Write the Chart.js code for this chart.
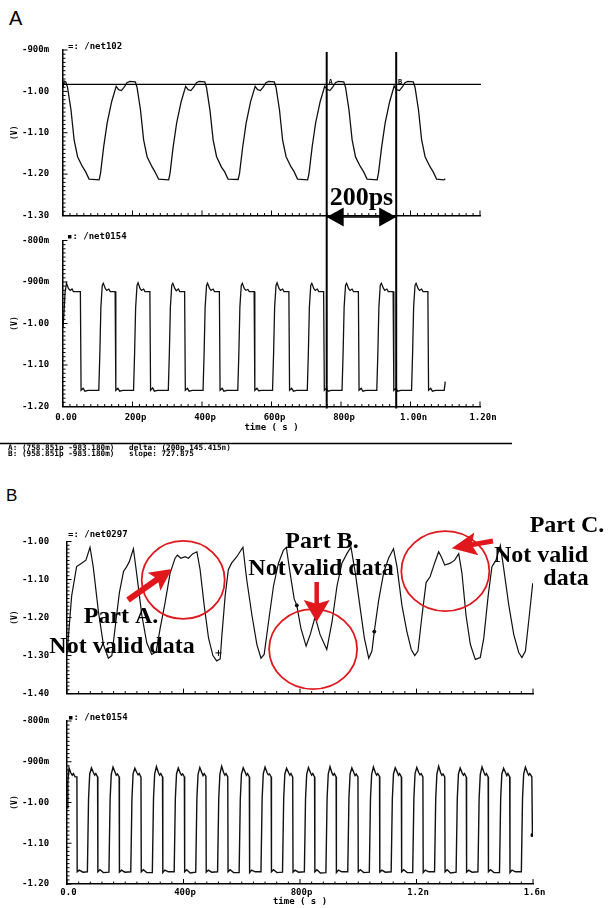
<!DOCTYPE html>
<html>
<head>
<meta charset="utf-8">
<title>Waveforms</title>
<script src="https://cdn.jsdelivr.net/npm/chart.js@4.4.1/dist/chart.umd.min.js"></script>
<style>
html,body{margin:0;padding:0;background:#fff;}
body{position:relative;width:610px;height:908px;overflow:hidden;font-family:"Liberation Sans",Arial,sans-serif;}
canvas{position:absolute;left:0;}
.panel{position:absolute;color:#000;line-height:20px;}
</style>
</head>
<body>
<div class="panel" style="left:9px;top:8px;font-size:20px;">A</div>
<div class="panel" style="left:6px;top:486px;font-size:17px;">B</div>
<canvas id="c1" width="610" height="232" style="top:0px"></canvas>
<canvas id="c2" width="610" height="230" style="top:232px"></canvas>
<canvas id="c3" width="610" height="197" style="top:505px"></canvas>
<canvas id="c4" width="610" height="206" style="top:702px"></canvas>
<script>
// ===================== DATA =====================
// Panel A, upper trace /net102 (time in ps, volts)
const net102_t = [0,3,
 8,13,23,32,42,56,65,75,104,108,117,127,140,153,160,168,176,184,192,
 208,213,223,232,242,256,265,275,304,308,317,327,340,353,360,368,376,384,392,
 408,413,423,432,442,456,465,475,504,508,517,527,540,553,560,568,576,584,592,
 608,613,623,632,642,656,665,675,704,708,717,727,740,753,760,768,776,784,792,
 808,813,823,832,842,856,865,875,904,908,917,927,940,953,960,968,976,984,992,
 1008,1013,1023,1032,1042,1056,1065,1075,1096,1100];
const net102_v = [-0.992,-0.975,
 -0.977,-0.990,-1.045,-1.117,-1.158,-1.182,-1.194,-1.212,-1.214,-1.198,-1.134,-1.077,-1.025,-0.988,-0.996,-0.998,-0.990,-0.979,-0.976,
 -0.977,-0.990,-1.045,-1.117,-1.158,-1.182,-1.195,-1.212,-1.214,-1.198,-1.134,-1.077,-1.025,-0.988,-0.996,-0.998,-0.990,-0.979,-0.976,
 -0.977,-0.991,-1.046,-1.117,-1.158,-1.183,-1.194,-1.212,-1.213,-1.198,-1.135,-1.077,-1.024,-0.988,-0.996,-0.998,-0.990,-0.979,-0.976,
 -0.977,-0.990,-1.045,-1.118,-1.158,-1.182,-1.194,-1.212,-1.214,-1.198,-1.134,-1.076,-1.025,-0.988,-0.995,-0.998,-0.990,-0.979,-0.976,
 -0.977,-0.990,-1.045,-1.117,-1.159,-1.182,-1.194,-1.212,-1.214,-1.197,-1.134,-1.077,-1.025,-0.987,-0.996,-0.998,-0.990,-0.979,-0.976,
 -0.977,-0.990,-1.045,-1.117,-1.158,-1.182,-1.194,-1.212,-1.214,-1.211];

// Panel A, lower trace /net0154
const netA0154_t = [0,3,6,10,16,21,26,30,50,52,58,63,72,
 103,106,109,113,116,122,126,132,136,150,152,158,163,172,
 203,206,209,213,216,222,226,232,236,250,252,258,263,272,
 303,306,309,313,316,322,326,332,336,350,352,358,363,372,
 403,406,409,413,416,422,426,432,436,450,452,458,463,472,
 503,506,509,513,516,522,526,532,536,550,552,558,563,572,
 603,606,609,613,616,622,626,632,636,650,652,658,663,672,
 703,706,709,713,716,722,726,732,736,750,752,758,763,772,
 803,806,809,813,816,822,826,832,836,850,852,858,863,872,
 903,906,909,913,916,922,926,932,936,950,952,958,963,972,
 1003,1006,1009,1013,1016,1022,1026,1032,1036,1050,1052,1058,1063,1072,1097,1100];
const netA0154_v = [-1.010,-0.970,-0.925,-0.903,-0.916,-0.920,-0.917,-0.923,-0.923,-1.161,-1.156,-1.163,-1.161,
 -1.161,-1.073,-0.961,-0.908,-0.903,-0.916,-0.920,-0.917,-0.923,-0.923,-1.161,-1.156,-1.163,-1.161,
 -1.161,-1.073,-0.962,-0.908,-0.902,-0.916,-0.920,-0.917,-0.923,-0.923,-1.161,-1.155,-1.163,-1.161,
 -1.161,-1.073,-0.961,-0.908,-0.903,-0.916,-0.921,-0.917,-0.923,-0.923,-1.161,-1.156,-1.163,-1.161,
 -1.161,-1.074,-0.961,-0.909,-0.903,-0.916,-0.920,-0.917,-0.923,-0.923,-1.161,-1.156,-1.163,-1.161,
 -1.161,-1.073,-0.961,-0.908,-0.903,-0.916,-0.920,-0.918,-0.923,-0.923,-1.161,-1.156,-1.162,-1.161,
 -1.161,-1.073,-0.961,-0.908,-0.902,-0.916,-0.920,-0.917,-0.923,-0.923,-1.161,-1.156,-1.163,-1.161,
 -1.161,-1.073,-0.961,-0.908,-0.903,-0.916,-0.920,-0.917,-0.923,-0.923,-1.161,-1.156,-1.163,-1.161,
 -1.161,-1.072,-0.961,-0.908,-0.903,-0.916,-0.920,-0.917,-0.923,-0.923,-1.161,-1.156,-1.163,-1.161,
 -1.161,-1.073,-0.961,-0.908,-0.903,-0.915,-0.920,-0.917,-0.923,-0.923,-1.161,-1.156,-1.163,-1.161,
 -1.161,-1.073,-0.961,-0.908,-0.903,-0.916,-0.920,-0.917,-0.923,-0.923,-1.161,-1.156,-1.163,-1.161,-1.161,-1.140];

// Panel B, upper trace /net0297
const net0297_t = [0,16,33,50,65,79,90,108,125,142,
 154,165,180,194,205,214,228,239,257,274,
 291,306,320,337,354,371,379,391,405,417,
 432,446,457,471,486,501,514,526,532,543,
 554,565,583,604,617,635,652,666,677,692,
 709,726,743,753,766,780,789,803,821,835,
 852,869,892,910,927,944,961,975,990,1007,
 1021,1036,1047,1055,1070,1087,1104,1121,1133,1150,
 1167,1182,1194,1205,1219,1233,1247,1262,1276,1285,
 1297,1316,1331,1345,1356,1370,1385,1402,1419,1431,
 1446,1459,1473,1488,1500,1517,1534,1551,1562,1574,
 1585,1599];
const net0297_v = [-1.297,-1.143,-1.066,-1.057,-1.049,-1.015,-1.066,-1.185,-1.271,-1.307,
 -1.300,-1.228,-1.134,-1.079,-1.066,-1.053,-1.019,-1.083,-1.194,-1.267,
 -1.297,-1.290,-1.228,-1.160,-1.083,-1.044,-1.036,-1.044,-1.040,-1.044,
 -1.032,-1.027,-1.074,-1.168,-1.254,-1.300,-1.314,-1.309,-1.245,-1.143,
 -1.074,-1.057,-1.040,-1.015,-1.100,-1.194,-1.271,-1.307,-1.297,-1.211,
 -1.117,-1.057,-1.023,-1.015,-1.083,-1.151,-1.168,-1.228,-1.275,-1.245,
 -1.198,-1.245,-1.284,-1.211,-1.117,-1.057,-1.032,-1.015,-1.083,-1.177,
 -1.254,-1.307,-1.288,-1.237,-1.155,-1.083,-1.044,-1.019,-1.066,-1.168,
 -1.237,-1.284,-1.300,-1.288,-1.194,-1.108,-1.092,-1.057,-1.027,-1.040,
 -1.062,-1.057,-1.049,-1.032,-1.083,-1.194,-1.271,-1.310,-1.305,-1.254,
 -1.143,-1.066,-1.049,-1.010,-1.074,-1.168,-1.245,-1.292,-1.305,-1.288,
 -1.211,-1.110];
const net0297_mark_t = [520,789,1055];
const net0297_mark_v = [-1.293,-1.168,-1.237];

// Panel B, lower trace /net0154
const netB0154_t = [0,3,7,13,18,22,28,34,35,42,55,
 70,74,78,84,91,95,99,105,106,113,125,
 144,148,152,158,165,169,173,179,180,187,199,
 219,223,227,233,240,244,248,254,255,262,274,
 293,297,301,307,314,318,322,328,329,336,348,
 368,372,376,382,389,393,397,403,404,411,423,
 442,446,450,456,463,467,471,477,478,485,497,
 517,521,525,531,538,542,546,552,553,560,572,
 591,595,599,605,612,616,620,626,627,634,646,
 666,670,674,680,687,691,695,701,702,709,721,
 740,744,748,754,761,765,769,775,776,783,795,
 815,819,823,829,836,840,844,850,851,858,870,
 889,893,897,903,910,914,918,924,925,932,944,
 964,968,972,978,985,989,993,999,1000,1007,1019,
 1038,1042,1046,1052,1059,1063,1067,1073,1074,1081,1093,
 1113,1117,1121,1127,1134,1138,1142,1148,1149,1156,1168,
 1187,1191,1195,1201,1208,1212,1216,1222,1223,1230,1242,
 1262,1266,1270,1276,1283,1287,1291,1297,1298,1305,1317,
 1336,1340,1344,1350,1357,1361,1365,1371,1372,1379,1391,
 1411,1415,1419,1425,1432,1436,1440,1446,1447,1454,1466,
 1485,1489,1493,1499,1506,1510,1514,1520,1521,1528,1540,
 1560,1564,1568,1574,1581,1585,1589,1596,1598];
const netB0154_v = [-1.013,-0.950,-0.915,-0.927,-0.933,-0.929,-0.937,-0.937,-1.170,-1.166,-1.171,
 -1.170,-0.990,-0.930,-0.915,-0.927,-0.933,-0.929,-0.937,-1.170,-1.165,-1.172,
 -1.171,-0.992,-0.931,-0.913,-0.926,-0.933,-0.930,-0.937,-1.171,-1.166,-1.171,
 -1.170,-0.990,-0.929,-0.916,-0.927,-0.932,-0.929,-0.938,-1.170,-1.165,-1.172,
 -1.172,-0.991,-0.930,-0.912,-0.927,-0.933,-0.929,-0.937,-1.172,-1.166,-1.170,
 -1.170,-0.990,-0.930,-0.915,-0.928,-0.933,-0.930,-0.937,-1.170,-1.165,-1.173,
 -1.171,-0.989,-0.931,-0.914,-0.927,-0.934,-0.929,-0.936,-1.171,-1.166,-1.171,
 -1.170,-0.990,-0.930,-0.911,-0.927,-0.933,-0.929,-0.937,-1.170,-1.165,-1.172,
 -1.172,-0.992,-0.930,-0.915,-0.926,-0.933,-0.929,-0.937,-1.172,-1.166,-1.170,
 -1.170,-0.990,-0.929,-0.913,-0.927,-0.932,-0.930,-0.937,-1.170,-1.165,-1.172,
 -1.171,-0.990,-0.930,-0.916,-0.927,-0.933,-0.929,-0.938,-1.171,-1.166,-1.171,
 -1.170,-0.991,-0.931,-0.914,-0.927,-0.933,-0.929,-0.937,-1.170,-1.165,-1.173,
 -1.172,-0.990,-0.930,-0.912,-0.928,-0.933,-0.929,-0.937,-1.172,-1.166,-1.170,
 -1.170,-0.989,-0.930,-0.915,-0.927,-0.934,-0.930,-0.937,-1.170,-1.165,-1.172,
 -1.171,-0.990,-0.931,-0.913,-0.927,-0.933,-0.929,-0.936,-1.171,-1.166,-1.171,
 -1.170,-0.992,-0.930,-0.915,-0.926,-0.933,-0.929,-0.937,-1.170,-1.165,-1.172,
 -1.172,-0.990,-0.929,-0.914,-0.927,-0.932,-0.929,-0.937,-1.172,-1.166,-1.170,
 -1.170,-0.990,-0.930,-0.911,-0.927,-0.933,-0.930,-0.937,-1.170,-1.165,-1.173,
 -1.171,-0.991,-0.930,-0.915,-0.928,-0.933,-0.929,-0.938,-1.171,-1.166,-1.171,
 -1.170,-0.990,-0.931,-0.913,-0.927,-0.933,-0.929,-0.937,-1.170,-1.165,-1.172,
 -1.172,-0.990,-0.930,-0.916,-0.927,-0.934,-0.929,-0.937,-1.172,-1.166,-1.170,
 -1.170,-0.990,-0.930,-0.913,-0.927,-0.933,-0.929,-0.937,-1.080];
const netB0154_mark_t = [1598];
const netB0154_mark_v = [-1.080];

// Tick values and labels
const xTicksA = [0,200,400,600,800,1000,1200];
const xLabelsA = ['0.00','200p','400p','600p','800p','1.00n','1.20n'];
const xTicksB = [0,400,800,1200,1600];
const xLabelsB = ['0.0','400p','800p','1.2n','1.6n'];
const yTicks1 = [-1.3,-1.2,-1.1,-1.0,-0.9];
const yLabels1 = ['-1.30','-1.20','-1.10','-1.00','-900m'];
const yTicks2 = [-1.2,-1.1,-1.0,-0.9,-0.8];
const yLabels2 = ['-1.20','-1.10','-1.00','-900m','-800m'];
const yTicks3 = [-1.4,-1.3,-1.2,-1.1,-1.0];
const yLabels3 = ['-1.40','-1.30','-1.20','-1.10','-1.00'];

// Cursors / readouts
const cursorTimes = [758.851, 958.851];
const cursorNames = ['A','B'];
const cursorLevel = -0.98318;
const deltaText = '200ps';
const readoutA = 'A: (758.851p -983.180m)';
const readoutB = 'B: (958.851p -983.180m)';
const readoutDelta = 'delta: (200p 145.415n)';
const readoutSlope = 'slope: 727.875';

// Annotation circles on /net0297 (centre in data units)
const circleT = [399, 845, 1299];
const circleV = [-1.101, -1.283, -1.078];

// ===================== DRAWING =====================
Chart.defaults.font.family = '"DejaVu Sans Mono", monospace';
Chart.defaults.font.size = 9;
Chart.defaults.font.weight = 'bold';
Chart.defaults.color = '#000';

const MONO = '"DejaVu Sans Mono", monospace';
const SERIF = '"Liberation Serif", "Times New Roman", serif';
const RED = '#e0181d';

function seg(ctx,x1,y1,x2,y2,w){ctx.lineWidth=w;ctx.beginPath();ctx.moveTo(x1,y1);ctx.lineTo(x2,y2);ctx.stroke();}
function tri(ctx,a,b,c,d,e,f){ctx.beginPath();ctx.moveTo(a,b);ctx.lineTo(c,d);ctx.lineTo(e,f);ctx.closePath();ctx.fill();}
function arrow(ctx,x1,y1,x2,y2,sw,hl,hw){
  const a=Math.atan2(y2-y1,x2-x1), L=Math.hypot(x2-x1,y2-y1);
  ctx.save();ctx.translate(x2,y2);ctx.rotate(a);
  ctx.beginPath();
  ctx.moveTo(0,0);ctx.lineTo(-hl,-hw/2);ctx.lineTo(-hl*0.85,-sw/2);ctx.lineTo(-L,-sw/2);
  ctx.lineTo(-L,sw/2);ctx.lineTo(-hl*0.85,sw/2);ctx.lineTo(-hl,hw/2);ctx.closePath();ctx.fill();
  ctx.restore();
}

function deco(c){
  return {id:'deco_'+c.id, afterDraw(ch){
    const ctx=ch.ctx, xs=ch.scales.x, ys=ch.scales.y, ca=ch.chartArea;
    ctx.save();
    ctx.strokeStyle='#000'; ctx.lineWidth=1;
    ctx.beginPath();
    const ny=Math.round((c.yMax-c.yMin)/c.yMinor);
    for(let i=0;i<=ny;i++){
      const y=ys.getPixelForValue(c.yMin+i*c.yMinor);
      const len=(i%c.yEvery===0)?4.5:2.5;
      ctx.moveTo(ca.left,y);ctx.lineTo(ca.left+len,y);
    }
    const nx=Math.round((c.xMax-c.xMin)/c.xMinor);
    for(let i=0;i<=nx;i++){
      const x=xs.getPixelForValue(c.xMin+i*c.xMinor);
      const len=(i%c.xEvery===0)?5:2.5;
      ctx.moveTo(x,ca.bottom);ctx.lineTo(x,ca.bottom-len);
    }
    ctx.stroke();
    ctx.fillStyle='#000';ctx.font='bold 9px '+MONO;ctx.textBaseline='middle';ctx.textAlign='left';
    ctx.fillText(c.name,c.nameX,c.nameY-c.top);
    if(c.extra) c.extra(ch,ctx,xs,ys,ca,c.top);
    ctx.restore();
  }};
}

function makeChart(c){
  const ds=[{data:c.t.map((x,i)=>({x:x,y:c.v[i]})),borderColor:'#111',borderWidth:c.lw,pointRadius:0,tension:0,fill:false}];
  if(c.mt){
    ds.push({data:c.mt.map((x,i)=>({x:x,y:c.mv[i]})),showLine:false,pointStyle:c.mstyle,pointRadius:c.mr,
      borderColor:'#000',backgroundColor:'#000',borderWidth:1});
  }
  return new Chart(document.getElementById(c.id),{
    type:'line',
    data:{datasets:ds},
    options:{
      responsive:false,animation:false,events:[],
      layout:{padding:{left:22,right:c.rightPad,top:c.topPad,bottom:0}},
      plugins:{legend:{display:false},tooltip:{enabled:false}},
      scales:{
        x:{type:'linear',position:'bottom',min:c.xMin,max:c.xMax,
          afterFit:s=>{s.height=c.bottomH;},
          afterBuildTicks:s=>{s.ticks=c.xTicks.map(v=>({value:v}));},
          grid:{display:false,drawTicks:false},
          border:{display:true,color:'#000',width:1.5},
          ticks:{display:!!c.xLabels,padding:c.xLabPad||0,labelOffset:c.xLabOff||0,autoSkip:false,maxRotation:0,minRotation:0,
            callback:(v,i)=>c.xLabels?c.xLabels[i]:''},
          title:{display:!!c.xTitle,text:c.xTitle||'',padding:{top:0,bottom:c.xTitlePad||0},font:{size:9,weight:'bold'}}
        },
        y:{type:'linear',position:'left',min:c.yMin,max:c.yMax,
          afterFit:s=>{s.width=c.leftW-22;},
          afterBuildTicks:s=>{s.ticks=c.yTicks.map(v=>({value:v}));},
          grid:{display:false,drawTicks:false},
          border:{display:true,color:'#000',width:1.5},
          ticks:{crossAlign:'far',autoSkip:false,callback:(v,i)=>c.yLabels[i]},
          title:{display:true,text:'(V)',padding:{top:-11.8,bottom:0},font:{size:8,weight:'bold'}}
        }
      }
    },
    plugins:[deco(c)]
  });
}

// Panel A upper
makeChart({id:'c1',top:0,t:net102_t,v:net102_v,lw:1.3,
  xMin:0,xMax:1200,yMin:-1.3,yMax:-0.9,xTicks:xTicksA,xLabels:null,yTicks:yTicks1,yLabels:yLabels1,
  leftW:63,rightPad:130,topPad:50,bottomH:16.5,
  xMinor:20,xEvery:10,yMinor:0.01,yEvery:10,
  name:'=: /net102',nameX:68,nameY:47,
  extra:(ch,ctx,xs,ys,ca,o)=>{
    ctx.strokeStyle='#000';ctx.fillStyle='#000';
    const yh=ys.getPixelForValue(cursorLevel);
    seg(ctx,ca.left,yh,ca.right+1,yh,1.3);
    const xa=xs.getPixelForValue(cursorTimes[0]), xb=xs.getPixelForValue(cursorTimes[1]);
    seg(ctx,xa,52,xa,232,2);seg(ctx,xb,52,xb,232,2);
    ctx.font='bold 7px '+MONO;ctx.textAlign='center';ctx.textBaseline='middle';
    ctx.fillText(cursorNames[0],xa+4,yh-2);ctx.fillText(cursorNames[1],xb+4,yh-2);
    ctx.font='bold 26px '+SERIF;ctx.textBaseline='alphabetic';
    ctx.fillText(deltaText,(xa+xb)/2,205);
    const ya=217;
    seg(ctx,xa,ya,xb,ya,1.5);
    tri(ctx,xa,ya,xa+17,ya-9.5,xa+17,ya+9.5);
    tri(ctx,xb,ya,xb-17,ya-9.5,xb-17,ya+9.5);
  }
});

// Panel A lower
makeChart({id:'c2',top:232,t:netA0154_t,v:netA0154_v,lw:1.3,
  xMin:0,xMax:1200,yMin:-1.2,yMax:-0.8,xTicks:xTicksA,xLabels:xLabelsA,yTicks:yTicks2,yLabels:yLabels2,
  leftW:63,rightPad:130,topPad:8.5,bottomH:55.5,xLabPad:5.5,xLabOff:3,xTitle:'time ( s )',xTitlePad:28.6,
  xMinor:20,xEvery:10,yMinor:0.01,yEvery:10,
  name:'\u25AA: /net0154',nameX:67,nameY:237,
  extra:(ch,ctx,xs,ys,ca,o)=>{
    ctx.strokeStyle='#000';ctx.fillStyle='#000';
    const xa=xs.getPixelForValue(cursorTimes[0]), xb=xs.getPixelForValue(cursorTimes[1]);
    seg(ctx,xa,0,xa,ca.bottom+2,2);seg(ctx,xb,0,xb,ca.bottom+2,2);
    seg(ctx,0,443.5-o,512,443.5-o,1.5);
    ctx.font='bold 7.7px '+MONO;ctx.textAlign='left';ctx.textBaseline='middle';
    ctx.fillText(readoutA,8,448-o);ctx.fillText(readoutDelta,129,448-o);
    ctx.fillText(readoutB,8,454.5-o);ctx.fillText(readoutSlope,129,454.5-o);
  }
});

// Panel B upper
makeChart({id:'c3',top:505,t:net0297_t,v:net0297_v,lw:1.2,
  mt:net0297_mark_t,mv:net0297_mark_v,mstyle:['cross','circle','circle'],mr:[3,1.5,1.5],
  xMin:0,xMax:1600,yMin:-1.4,yMax:-1.0,xTicks:xTicksB,xLabels:null,yTicks:yTicks3,yLabels:yLabels3,
  leftW:67,rightPad:77,topPad:36.5,bottomH:4.5,
  xMinor:40,xEvery:10,yMinor:0.01,yEvery:10,
  name:'=: /net0297',nameX:68,nameY:535,
  extra:(ch,ctx,xs,ys,ca,o)=>{
    ctx.strokeStyle=RED;ctx.lineWidth=1.8;
    const rx=[41.5,44,44], ry=[39,40,40];
    for(let i=0;i<circleT.length;i++){
      ctx.beginPath();
      ctx.ellipse(xs.getPixelForValue(circleT[i]),ys.getPixelForValue(circleV[i]),rx[i],ry[i],0,0,Math.PI*2);
      ctx.stroke();
    }
    ctx.fillStyle=RED;
    arrow(ctx,128,600-o,172,569-o,6,22,22);
    arrow(ctx,316.7,582-o,316.7,622-o,4.5,22,26);
    arrow(ctx,493,541-o,451.7,548.3-o,5,25,23);
    ctx.fillStyle='#000';ctx.font='bold 24px '+SERIF;ctx.textAlign='center';ctx.textBaseline='alphabetic';
    ctx.fillText('Part A.',121,623-o);
    ctx.fillText('Not valid data',122,653-o);
    ctx.fillText('Part B.',322,548-o);
    ctx.fillText('Not valid data',321,575-o);
    ctx.fillText('Part C.',567,532-o);
    ctx.fillText('Not valid',541,562-o);
    ctx.fillText('data',566,585-o);
  }
});

// Panel B lower
makeChart({id:'c4',top:702,t:netB0154_t,v:netB0154_v,lw:1.4,
  mt:netB0154_mark_t,mv:netB0154_mark_v,mstyle:'rect',mr:1.8,
  xMin:0,xMax:1600,yMin:-1.2,yMax:-0.8,xTicks:xTicksB,xLabels:xLabelsB,yTicks:yTicks2,yLabels:yLabels2,
  leftW:67,rightPad:77,topPad:19,bottomH:24,xLabPad:3,xLabOff:1.5,xTitle:'time ( s )',xTitlePad:0.6,
  xMinor:40,xEvery:10,yMinor:0.01,yEvery:10,
  name:'\u25AA: /net0154',nameX:68,nameY:718
});
</script>
</body>
</html>
